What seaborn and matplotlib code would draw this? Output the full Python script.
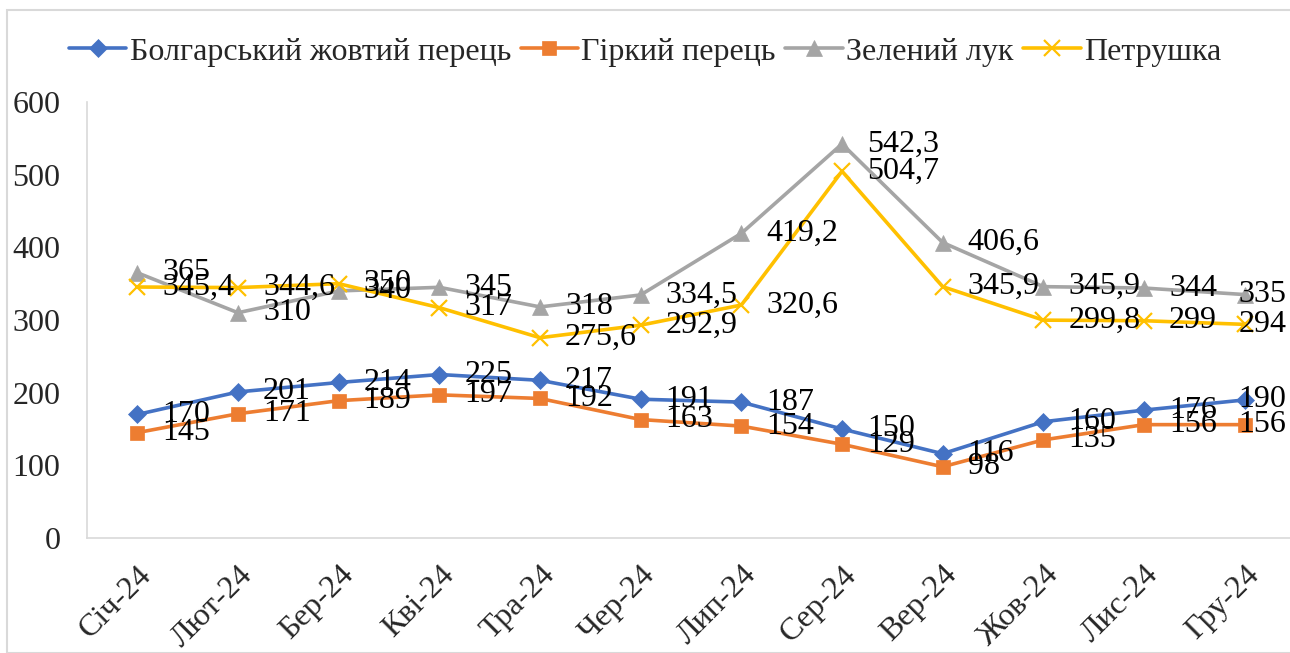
import matplotlib
matplotlib.use("Agg")
import matplotlib.pyplot as plt
import seaborn as sns
import pandas as pd
from matplotlib.patches import Rectangle

months = ["Січ-24", "Лют-24", "Бер-24", "Кві-24", "Тра-24", "Чер-24",
          "Лип-24", "Сер-24", "Вер-24", "Жов-24", "Лис-24", "Гру-24"]
series_names = ["Болгарський жовтий перець", "Гіркий перець", "Зелений лук", "Петрушка"]
bell_pepper = [170, 201, 214, 225, 217, 191, 187, 150, 116, 160, 176, 190]
hot_pepper = [145, 171, 189, 197, 192, 163, 154, 129, 98, 135, 156, 156]
green_onion = [365, 310, 340, 345, 318, 334.5, 419.2, 542.3, 406.6, 345.9, 344, 335]
parsley = [345.4, 344.6, 350, 317, 275.6, 292.9, 320.6, 504.7, 345.9, 299.8, 299, 294]
y_ticks = [0, 100, 200, 300, 400, 500, 600]

all_values = [bell_pepper, hot_pepper, green_onion, parsley]
colors = ["#4472C4", "#ED7D31", "#A5A5A5", "#FFC000"]
markers = ["D", "s", "^", "x"]
msizes = [9, 10, 11, 11]
FS = 23

rows = []
for name, vals in zip(series_names, all_values):
    for i, (m, v) in enumerate(zip(months, vals)):
        rows.append({"month": m, "idx": i, "value": v, "series": name})
df = pd.DataFrame(rows)

sns.set_theme(style="white")
plt.rcParams["font.family"] = ["Liberation Serif", "DejaVu Serif"]

fig = plt.figure(figsize=(12.9, 6.53), dpi=100)
ax = fig.add_axes([87 / 1290, (653 - 538) / 653, 1.0 - 87 / 1290, (538 - 102) / 653])

n = len(months)
for name, col, mk, ms in zip(series_names, colors, markers, msizes):
    sub = df[df["series"] == name]
    sns.lineplot(data=sub, x="idx", y="value", ax=ax, color=col, lw=2.6,
                 marker=mk, markersize=ms, markeredgecolor=col,
                 markeredgewidth=1.6 if mk == "x" else 0.5, label=name, zorder=3)
    for _, r in sub.iterrows():
        lab = f"{r['value']:g}".replace(".", ",")
        if int(r["idx"]) == n - 1:
            ax.text(0.997, r["value"], lab, transform=ax.get_yaxis_transform(),
                    ha="right", va="center", fontsize=FS, color="black", zorder=4)
        else:
            ax.annotate(lab, (r["idx"], r["value"]), xytext=(18, 0),
                        textcoords="offset points", ha="left", va="center",
                        fontsize=FS, color="black", zorder=4)

ax.set_xlim(-0.5, 11.45)
ax.set_ylim(0, 600)
ax.set_yticks(y_ticks)
ax.set_yticklabels([str(t) for t in y_ticks], fontsize=FS)
ax.set_xticks(range(n))
ax.set_xticklabels(months, fontsize=FS, rotation=45, ha="right", rotation_mode="anchor")
ax.tick_params(axis="y", length=0, pad=19)
ax.tick_params(axis="x", length=0, pad=16)
ax.set_xlabel("")
ax.set_ylabel("")
for s in ["top", "right"]:
    ax.spines[s].set_visible(False)
for s in ["left", "bottom"]:
    ax.spines[s].set_color("#D9D9D9")
    ax.spines[s].set_linewidth(1.2)

handles, labels = ax.get_legend_handles_labels()
ax.legend_.remove()
fig.legend(handles, labels, loc="center", bbox_to_anchor=(0.5, 1 - 52 / 653),
           ncol=4, frameon=False, fontsize=FS, handlelength=1.8, handletextpad=0.1,
           columnspacing=0.3)

fig.patches.append(Rectangle((7 / 1290, 0), 1.2, (653 - 10) / 653, transform=fig.transFigure,
                             fill=False, edgecolor="#D9D9D9", lw=1.5, zorder=10))

fig.savefig("out.png", dpi=100)
